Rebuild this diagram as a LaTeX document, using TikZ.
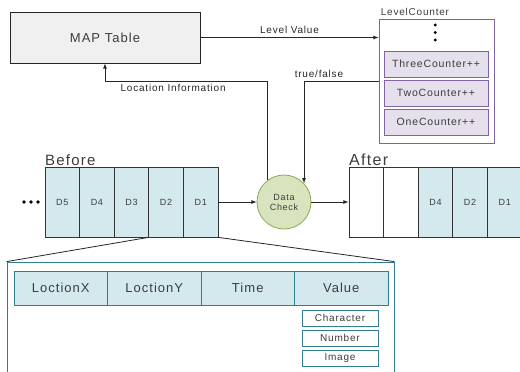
\documentclass[tikz,border=0pt]{standalone}
\usepackage{fontspec}
\setmainfont[LetterSpace=8]{Liberation Sans}
\usepackage{tikz}
\usetikzlibrary{calc}

\definecolor{mapgray}{RGB}{240,240,240}
\definecolor{cellblue}{RGB}{212,233,238}
\definecolor{tealline}{RGB}{52,125,145}
\definecolor{lvlpurple}{RGB}{128,100,162}
\definecolor{lvlfill}{RGB}{229,224,236}
\definecolor{chkfill}{RGB}{215,228,189}
\definecolor{chkline}{RGB}{140,170,85}
\definecolor{txtgray}{RGB}{60,60,60}

\newcommand{\fsz}[1]{\fontsize{#1}{#1}\selectfont}

\begin{document}
\begin{tikzpicture}[x=1pt,y=-1pt,text=txtgray]
  \tikzstyle{arrow}=[-latex, line width=0.8pt, color=black!85]
  \tikzstyle{cell}=[rectangle,draw=black!80,line width=0.8pt,minimum width=34.6pt,minimum height=70pt,inner sep=0pt,font=\fsz{9}]
  \tikzstyle{field}=[rectangle,draw=tealline,fill=cellblue,line width=0.8pt,minimum width=93.5pt,minimum height=34pt,inner sep=0pt,font=\fsz{13}]
  \tikzstyle{kind}=[rectangle,draw=tealline,fill=white,line width=0.8pt,minimum width=76pt,minimum height=16pt,inner sep=0pt,font=\fsz{10}]
  \tikzstyle{counter}=[rectangle,draw=lvlpurple,fill=lvlfill,line width=0.8pt,minimum width=104pt,minimum height=26pt,inner sep=0pt,font=\fsz{10.5}]
  \clip (0,0) rectangle (520,372);
  \useasboundingbox (0,0) rectangle (520,372);

  \node[rectangle,draw=black!85,fill=mapgray,line width=0.8pt,minimum width=190pt,minimum height=51pt,font=\fsz{13}] (map) at (105,37.5) {MAP Table};

  % level counters
  \node[rectangle,draw=lvlpurple,fill=white,line width=0.8pt,minimum width=115pt,minimum height=124pt] (lc) at (436.5,81) {};
  \node[anchor=south west,inner sep=0pt,font=\fsz{10}] (lclabel) at ($(lc.north west)+(2,-3)$) {LevelCounter};
  \foreach \y in {25,32.5,40} {
    \node[circle,fill=black,inner sep=0pt,minimum size=3.2pt] at (435.3,\y) {};
  }
  \node[counter] (three) at (436,64) {ThreeCounter++};
  \node[counter] (two) at (436,93) {TwoCounter++};
  \node[counter] (one) at (436,122) {OneCounter++};

  \node[circle,draw=chkline,fill=chkfill,line width=0.8pt,minimum size=54pt,inner sep=0pt,align=center,font=\fsz{9}] (dc) at (284,202) {Data\\[1pt]Check};

  % queue before the check
  \foreach \i/\lab in {5/D5,4/D4,3/D3,2/D2,1/D1} {
    \node[cell,fill=cellblue] (b\i) at ({45+17.3+(5-\i)*34.6},202) {\lab};
  }
  \node[anchor=base west,inner sep=0pt,font=\fsz{15}] (before) at (45,165) {Before};
  \foreach \x in {24,31,38} {
    \node[circle,fill=black,inner sep=0pt,minimum size=3.6pt] at (\x,202) {};
  }

  % queue after the check
  \node[cell,fill=white] (a0) at (366.3,202) {};
  \node[cell,fill=white] (a1) at (400.9,202) {};
  \foreach \i/\x/\lab in {2/435.5/D4,3/470.1/D2,4/504.7/D1} {
    \node[cell,fill=cellblue] (a\i) at (\x,202) {\lab};
  }
  \node[anchor=base west,inner sep=0pt,font=\fsz{16}] (after) at (349,165) {After};

  \draw[arrow] (map.east) -- (map.east -| lc.west) node[midway,above,font=\fsz{10}] {Level Value};
  \draw[arrow] (dc.128) |- (lc.west -| map.south) node[pos=0.79,below,font=\fsz{10}] {Location Information} -- (map.south);
  \draw[arrow] (lc.west) -| (dc.43) node[pos=0.4,above,font=\fsz{10}] {true/false};
  \draw[arrow] (b1.east) -- (dc.west);
  \draw[arrow] (dc.east) -- (a0.west);

  % record detail
  \node[rectangle,draw=tealline,line width=0.8pt,minimum width=387pt,minimum height=130pt,inner sep=0pt] (rec) at (200.5,327) {};
  \draw[line width=0.8pt,black!85] (b2.south west) -- (rec.north west);
  \draw[line width=0.8pt,black!85] (b1.south east) -- (rec.north east);
  \foreach \i/\lab in {0/LoctionX,1/LoctionY,2/Time,3/Value} {
    \node[field] (f\i) at ({14+46.75+\i*93.5},288) {\lab};
  }
  \node[kind] (char) at (340,318) {Character};
  \node[kind] (num) at (340,338) {Number};
  \node[kind] (img) at (340,358) {Image};
\end{tikzpicture}
\end{document}
